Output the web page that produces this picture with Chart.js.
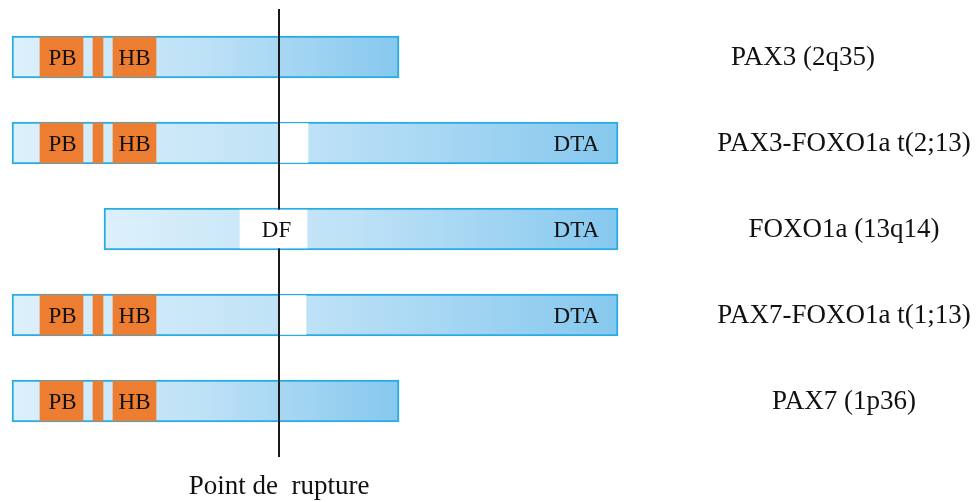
<!DOCTYPE html>
<html>
<head>
<meta charset="utf-8">
<script src="https://cdn.jsdelivr.net/npm/chart.js@4/dist/chart.umd.min.js"></script>
<style>
  html, body { margin: 0; padding: 0; background: #ffffff; }
  #wrap { width: 976px; height: 502px; }
</style>
</head>
<body>
<div id="wrap"><canvas id="c" width="976" height="502"></canvas></div>
<script>
// ---- data ----
const genes = ['PAX3 (2q35)', 'PAX3-FOXO1a t(2;13)', 'FOXO1a (13q14)', 'PAX7-FOXO1a t(1;13)', 'PAX7 (1p36)'];
const geneSpan   = [[12, 399], [12, 618], [104, 618], [12, 618], [12, 399]];
const pbDomain   = [[40, 83], [40, 83], null, [40, 83], [40, 83]];
const octaDomain = [[93, 103], [93, 103], null, [93, 103], [93, 103]];
const hbDomain   = [[113, 156], [113, 156], null, [113, 156], [113, 156]];
const fusionGap  = [null, [279, 308], null, [279, 306], null];
const dfDomain   = [null, null, [240, 307], null, null];
const dtaLabel   = [null, 'DTA', 'DTA', 'DTA', null];
const breakpoint = 279;
const breakpointLabel = 'Point de  rupture';

// ---- layout / style ----
const labelCenterX = [803, 844, 844, 844, 844];
const SERIF = '"Liberation Serif", "Times New Roman", serif';
const BLUE_BORDER = '#2aace3';
const ORANGE = '#ed7d31';

function geneGradient(ctx) {
  const c = ctx.chart;
  const r = ctx.raw;
  if (!c.chartArea || !r) return '#b5def5';
  const xs = c.scales.x;
  const g = c.ctx.createLinearGradient(xs.getPixelForValue(r[0]), 0, xs.getPixelForValue(r[1]), 0);
  g.addColorStop(0, '#dcf0fb');
  g.addColorStop(0.5, '#bde1f6');
  g.addColorStop(1, '#86c8ee');
  return g;
}

const drawPlugin = {
  id: 'geneDeco',
  afterDatasetDraw(chart, args) {
    if (args.index !== 4) return; // after fusion gaps, before DF box
    const ctx = chart.ctx;
    const xs = chart.scales.x;
    const area = chart.chartArea;
    const px = Math.round(xs.getPixelForValue(breakpoint));
    ctx.save();
    ctx.strokeStyle = '#1a1a1a';
    ctx.lineWidth = 2;
    ctx.beginPath();
    ctx.moveTo(px, area.top - 5);
    ctx.lineTo(px, area.bottom + 13);
    ctx.stroke();
    ctx.restore();
  },
  afterDatasetsDraw(chart) {
    const ctx = chart.ctx;
    const xs = chart.scales.x;
    const ys = chart.scales.y;
    const area = chart.chartArea;
    ctx.save();
    ctx.fillStyle = '#111111';
    // inner labels
    ctx.font = '23px ' + SERIF;
    ctx.textBaseline = 'alphabetic';
    const capInner = 7.6;
    genes.forEach((g, i) => {
      const cy = ys.getPixelForValue(i);
      ctx.textAlign = 'center';
      if (pbDomain[i]) {
        ctx.fillText('PB', xs.getPixelForValue((pbDomain[i][0] + pbDomain[i][1]) / 2) + 1, cy + capInner);
      }
      if (hbDomain[i]) {
        ctx.fillText('HB', xs.getPixelForValue((hbDomain[i][0] + hbDomain[i][1]) / 2), cy + capInner);
      }
      if (dfDomain[i]) {
        ctx.fillText('DF', xs.getPixelForValue((dfDomain[i][0] + dfDomain[i][1]) / 2) + 3, cy + capInner);
      }
      if (dtaLabel[i]) {
        ctx.textAlign = 'right';
        ctx.fillText(dtaLabel[i], xs.getPixelForValue(geneSpan[i][1]) - 19, cy + capInner);
      }
    });
    // right labels
    ctx.font = '27px ' + SERIF;
    ctx.textAlign = 'center';
    genes.forEach((g, i) => {
      const cy = ys.getPixelForValue(i);
      ctx.fillText(g, xs.getPixelForValue(labelCenterX[i]), cy + 8);
    });
    // breakpoint label
    ctx.fillText(breakpointLabel, xs.getPixelForValue(breakpoint), area.bottom + 50);
    ctx.restore();
  }
};

const common = { grouped: false, borderSkipped: false, borderRadius: 0 };

new Chart(document.getElementById('c'), {
  type: 'bar',
  data: {
    labels: genes,
    datasets: [
      Object.assign({ label: 'PB', data: pbDomain, backgroundColor: ORANGE, borderWidth: 0, barThickness: 40, order: 1 }, common),
      Object.assign({ label: 'octa', data: octaDomain, backgroundColor: ORANGE, borderWidth: 0, barThickness: 40, order: 1 }, common),
      Object.assign({ label: 'HB', data: hbDomain, backgroundColor: ORANGE, borderWidth: 0, barThickness: 40, order: 1 }, common),
      Object.assign({ label: 'DF', data: dfDomain, backgroundColor: '#ffffff', borderWidth: 0, barThickness: 38, order: 2 }, common),
      Object.assign({ label: 'gap', data: fusionGap, backgroundColor: '#ffffff', borderWidth: 0, barThickness: 39, order: 3 }, common),
      Object.assign({ label: 'gene', data: geneSpan, backgroundColor: geneGradient, borderColor: BLUE_BORDER, borderWidth: 2, barThickness: 42, order: 4 }, common)
    ]
  },
  options: {
    indexAxis: 'y',
    responsive: false,
    animation: false,
    devicePixelRatio: 1,
    layout: { padding: { top: 14, bottom: 58, left: 0, right: 0 } },
    scales: {
      x: { type: 'linear', min: 0, max: 976, display: false },
      y: { type: 'category', display: false }
    },
    plugins: { legend: { display: false }, tooltip: { enabled: false } }
  },
  plugins: [drawPlugin]
});
</script>
</body>
</html>
